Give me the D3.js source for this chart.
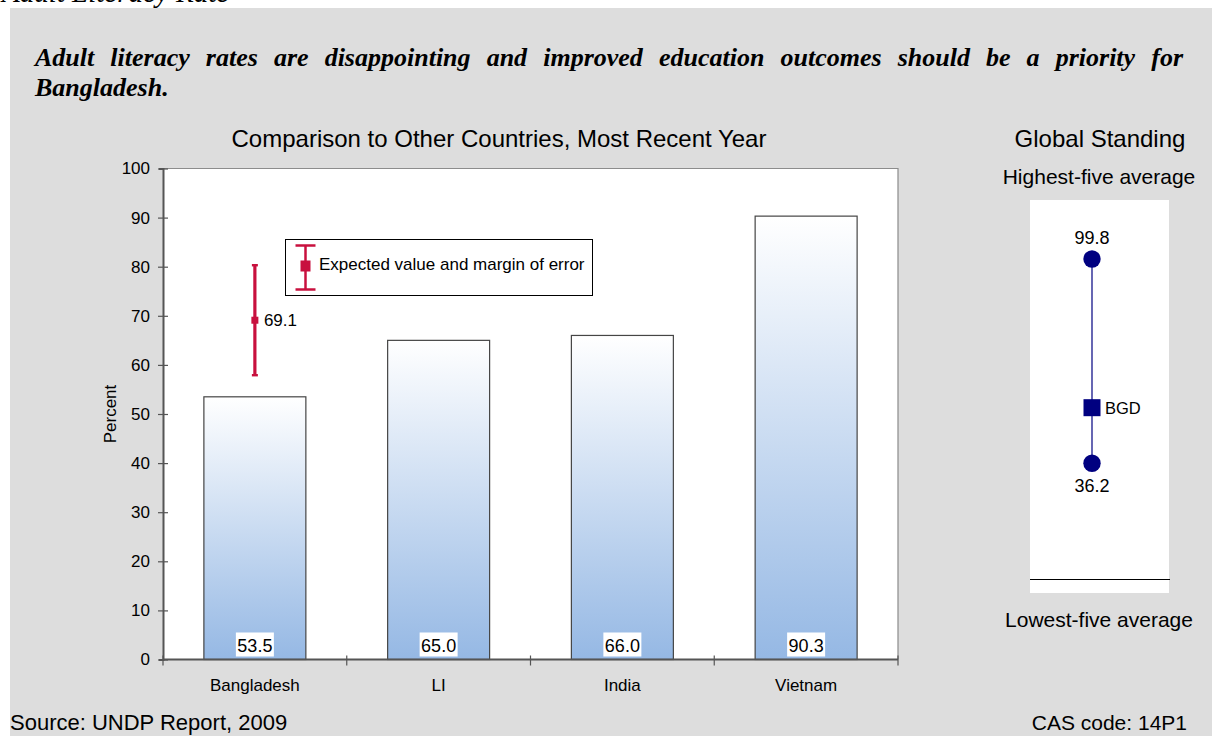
<!DOCTYPE html>
<html>
<head>
<meta charset="utf-8">
<script src="https://cdn.jsdelivr.net/npm/d3@7"></script>
<style>
  html, body { margin: 0; padding: 0; background: #ffffff; }
  svg { display: block; }
  text { font-family: "Liberation Sans", Arial, sans-serif; fill: #000; }
  .serif { font-family: "Liberation Serif", "Times New Roman", serif; }
</style>
</head>
<body>
<svg id="chart" width="1212" height="736"></svg>
<script>
// ---- data ----
const categories = ["Bangladesh", "LI", "India", "Vietnam"];
const literacyRates = [53.5, 65.0, 66.0, 90.3];
const yTickValues = [0, 10, 20, 30, 40, 50, 60, 70, 80, 90, 100];

// expected value for Bangladesh with its margin of error
const expectedCategory = ["Bangladesh"];
const expectedValue = [69.1];
const expectedLow = [57.9];
const expectedHigh = [80.3];

// global standing: highest-five and lowest-five averages, and the country
const standingNames = ["Highest-five average", "Lowest-five average"];
const standingValues = [99.8, 36.2];
const countryCode = ["BGD"];
const countryValue = [53.5];

// ---- drawing ----
const svg = d3.select("#chart");
const W = 1212, H = 736;
const RED = "#c8103e";
const NAVY = "#000080";

svg.append("rect").attr("x", 0).attr("y", 0).attr("width", W).attr("height", H).attr("fill", "#ffffff");
svg.append("rect").attr("x", 10).attr("y", 8).attr("width", W - 10).attr("height", H - 8).attr("fill", "#dddddd");

// page heading (runs off the top edge)
svg.append("text").attr("class", "serif").attr("x", 2).attr("y", 2)
  .style("font-size", "29px").style("font-style", "italic")
  .text("Adult Literacy Rate");

// headline, first line justified to the text block width
const headline = svg.append("text").attr("class", "serif")
  .style("font-size", "26px").style("font-style", "italic").style("font-weight", "bold");
const line1 = headline.append("tspan").attr("x", 35).attr("y", 66)
  .text("Adult literacy rates are disappointing and improved education outcomes should be a priority for");
headline.append("tspan").attr("x", 35).attr("y", 96).text("Bangladesh.");
{
  const blockWidth = 1148;
  const natural = line1.node().getComputedTextLength();
  const spaces = (line1.text().match(/ /g) || []).length;
  line1.style("word-spacing", Math.max(0, (blockWidth - natural) / spaces) + "px");
}

// ---- bar chart ----
const plot = { left: 163, right: 898, top: 168.5, bottom: 659.5 };

const x = d3.scaleBand().domain(categories)
  .range([plot.left, plot.right]).paddingInner(0.445).paddingOuter(0.2225);
const y = d3.scaleLinear().domain([0, 100]).range([plot.bottom, plot.top]);

svg.append("text").attr("x", 499).attr("y", 147).attr("text-anchor", "middle")
  .style("font-size", "24px").text("Comparison to Other Countries, Most Recent Year");

svg.append("rect").attr("x", plot.left).attr("y", plot.top)
  .attr("width", plot.right - plot.left).attr("height", plot.bottom - plot.top)
  .attr("fill", "#ffffff");
svg.append("path")
  .attr("d", `M${plot.left},${plot.top}H${plot.right}V${plot.bottom}`)
  .attr("fill", "none").attr("stroke", "#8c8c8c").attr("stroke-width", 1.2);

const defs = svg.append("defs");
const grad = defs.append("linearGradient").attr("id", "barFill")
  .attr("x1", 0).attr("y1", 0).attr("x2", 0).attr("y2", 1);
grad.append("stop").attr("offset", "0%").attr("stop-color", "#ffffff");
grad.append("stop").attr("offset", "100%").attr("stop-color", "#95b8e4");

const bars = categories.map((c, i) => ({ c, v: literacyRates[i] }));

svg.append("g").selectAll("rect").data(bars).join("rect")
  .attr("x", d => x(d.c)).attr("y", d => y(d.v))
  .attr("width", x.bandwidth()).attr("height", d => y(0) - y(d.v))
  .attr("fill", "url(#barFill)").attr("stroke", "#454545").attr("stroke-width", 1.2);

// value labels at the foot of each bar
const lbl = svg.append("g").selectAll("g").data(bars).join("g")
  .attr("transform", d => `translate(${x(d.c) + x.bandwidth() / 2},${y(0)})`);
lbl.append("rect").attr("x", -19).attr("y", -27).attr("width", 38).attr("height", 24).attr("fill", "#ffffff");
lbl.append("text").attr("y", -8).attr("text-anchor", "middle").style("font-size", "18px")
  .text(d => d3.format(".1f")(d.v));

// y axis
const yAxis = svg.append("g").attr("transform", `translate(${plot.left},0)`)
  .call(d3.axisLeft(y).tickValues(yTickValues).tickSize(4).tickPadding(9));
yAxis.select(".domain").attr("stroke", "#555").attr("stroke-width", 2);
yAxis.selectAll(".tick line").attr("x1", 5).attr("x2", -5).attr("stroke", "#555").attr("stroke-width", 1.2);
yAxis.selectAll(".tick text").style("font-size", "17px").style("font-family", "Liberation Sans, Arial, sans-serif").attr("fill", "#000");

svg.append("text").attr("transform", `translate(116,414) rotate(-90)`)
  .attr("text-anchor", "middle").style("font-size", "17px").text("Percent");

// x axis with ticks between categories
const step = x.step();
const boundaries = d3.range(categories.length + 1).map(i => plot.left + i * step);
const xAxisG = svg.append("g");
xAxisG.append("line").attr("x1", plot.left).attr("x2", plot.right)
  .attr("y1", y(0)).attr("y2", y(0)).attr("stroke", "#555").attr("stroke-width", 2);
xAxisG.selectAll("line.t").data(boundaries).join("line").attr("class", "t")
  .attr("x1", d => d).attr("x2", d => d).attr("y1", y(0) - 4).attr("y2", y(0) + 6)
  .attr("stroke", "#555").attr("stroke-width", 1.2);
xAxisG.selectAll("text").data(categories).join("text")
  .attr("x", d => x(d) + x.bandwidth() / 2).attr("y", 691)
  .attr("text-anchor", "middle").style("font-size", "17px").text(d => d);

// expected value with margin of error
const ev = expectedCategory.map((c, i) => ({ c, v: expectedValue[i], lo: expectedLow[i], hi: expectedHigh[i] }));
const evG = svg.append("g").selectAll("g").data(ev).join("g")
  .attr("transform", d => `translate(${x(d.c) + x.bandwidth() / 2},0)`);
evG.append("line").attr("y1", d => y(d.hi)).attr("y2", d => y(d.lo))
  .attr("stroke", RED).attr("stroke-width", 3.2);
evG.append("line").attr("x1", -3).attr("x2", 3).attr("y1", d => y(d.hi)).attr("y2", d => y(d.hi))
  .attr("stroke", RED).attr("stroke-width", 2.4);
evG.append("line").attr("x1", -3).attr("x2", 3).attr("y1", d => y(d.lo)).attr("y2", d => y(d.lo))
  .attr("stroke", RED).attr("stroke-width", 2.4);
evG.append("rect").attr("x", -3.5).attr("y", d => y(d.v) - 3.5).attr("width", 7).attr("height", 7).attr("fill", RED);
evG.append("text").attr("x", 9).attr("y", d => y(d.v) + 6).style("font-size", "17px")
  .text(d => d3.format(".1f")(d.v));

// legend
const lg = svg.append("g").attr("transform", "translate(285.5,239.5)");
lg.append("rect").attr("width", 307).attr("height", 56).attr("fill", "#ffffff")
  .attr("stroke", "#000").attr("stroke-width", 1);
lg.append("line").attr("x1", 20).attr("x2", 20).attr("y1", 6).attr("y2", 50).attr("stroke", RED).attr("stroke-width", 2.5);
lg.append("line").attr("x1", 10).attr("x2", 30).attr("y1", 6).attr("y2", 6).attr("stroke", RED).attr("stroke-width", 2.5);
lg.append("line").attr("x1", 10).attr("x2", 30).attr("y1", 50).attr("y2", 50).attr("stroke", RED).attr("stroke-width", 2.5);
lg.append("rect").attr("x", 15).attr("y", 21).attr("width", 10).attr("height", 11).attr("fill", RED);
lg.append("text").attr("x", 33.5).attr("y", 30).style("font-size", "17px")
  .text("Expected value and margin of error");

// ---- global standing ----
const gs = { left: 1030, right: 1169, top: 200, bottom: 593, cx: 1092 };
const s = d3.scaleLinear().domain([0, standingValues[0]]).range([579.5, 259]);

svg.append("text").attr("x", 1100).attr("y", 147).attr("text-anchor", "middle")
  .style("font-size", "24px").text("Global Standing");
svg.append("text").attr("x", 1099).attr("y", 184).attr("text-anchor", "middle")
  .style("font-size", "21px").text(standingNames[0]);
svg.append("text").attr("x", 1099).attr("y", 627).attr("text-anchor", "middle")
  .style("font-size", "21px").text(standingNames[1]);

svg.append("rect").attr("x", gs.left).attr("y", gs.top)
  .attr("width", gs.right - gs.left).attr("height", gs.bottom - gs.top).attr("fill", "#ffffff");
svg.append("line").attr("x1", gs.left).attr("x2", gs.right + 1)
  .attr("y1", s(0)).attr("y2", s(0)).attr("stroke", "#000").attr("stroke-width", 1);

svg.append("line").attr("x1", gs.cx).attr("x2", gs.cx)
  .attr("y1", s(standingValues[0])).attr("y2", s(standingValues[1]))
  .attr("stroke", NAVY).attr("stroke-width", 1.2);
svg.append("g").selectAll("circle").data(standingValues).join("circle")
  .attr("cx", gs.cx).attr("cy", d => s(d)).attr("r", 8.7).attr("fill", NAVY);
svg.append("g").selectAll("text").data(standingValues).join("text")
  .attr("x", gs.cx).attr("y", (d, i) => i === 0 ? s(d) - 15 : s(d) + 29)
  .attr("text-anchor", "middle").style("font-size", "18px")
  .text(d => d3.format(".1f")(d));

const cc = countryCode.map((c, i) => ({ c, v: countryValue[i] }));
svg.append("g").selectAll("rect").data(cc).join("rect")
  .attr("x", gs.cx - 8.5).attr("y", d => s(d.v) - 8.5).attr("width", 17).attr("height", 17).attr("fill", NAVY);
svg.append("g").selectAll("text").data(cc).join("text")
  .attr("x", gs.cx + 13).attr("y", d => s(d.v) + 6).style("font-size", "16.5px").text(d => d.c);

// ---- footer ----
svg.append("text").attr("x", 10).attr("y", 730).style("font-size", "22px").text("Source: UNDP Report, 2009");
svg.append("text").attr("x", 1187).attr("y", 730).attr("text-anchor", "end").style("font-size", "21px").text("CAS code: 14P1");
</script>
</body>
</html>
